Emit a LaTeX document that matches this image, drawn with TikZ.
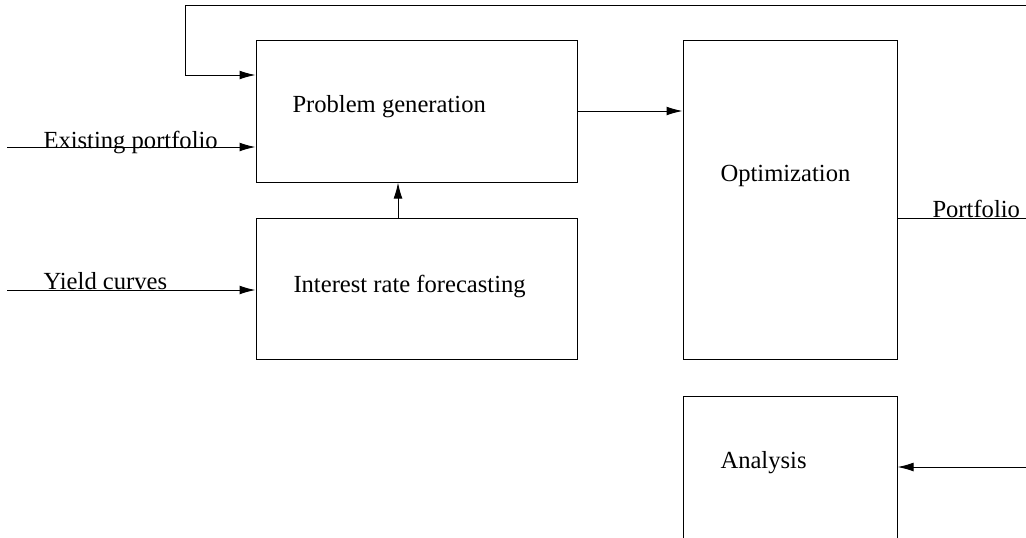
\documentclass[tikz,border=0pt]{standalone}
\usepackage{fontspec}
\setmainfont{Liberation Serif}
\usepackage{tikz}
\usetikzlibrary{arrows.meta}
\newcommand{\fcbox}[4] {\node at (#1) (#2) [rectangle, draw, minimum width=#3, minimum height=#4] {};}
\newcommand{\fctext}[3] {\node at (#1) (#2) [anchor=base west, inner sep=0pt] {#3};}
\newcommand{\fcline}[2] {\draw (#1) -- (#2);}
\newcommand{\fcarrow}[2] {\draw [-{Latex[length=8pt,width=4.4pt]}] (#1) -- (#2);}

\begin{document}
\begin{tikzpicture}[x=0.5pt, y=-0.5pt, line width=0.5pt, font=\fontsize{12.3pt}{14pt}\selectfont]
\useasboundingbox (0,0) rectangle (1026,537);

\fcbox {416.5,111} {gen} {160.5pt} {71pt};
\fcbox {416.5,288.5} {fore} {160.5pt} {70.5pt};
\fcbox {790,199.5} {opt} {107pt} {159.5pt};
\fcbox {790,476} {ana} {107pt} {80pt};

\fctext {292,112} {gentext} {Problem generation};
\fctext {293,292} {foretext} {Interest rate forecasting};
\fctext {720,181} {opttext} {Optimization};
\fctext {720,468} {anatext} {Analysis};

% inputs on the left
\coordinate (epin) at (7,147);
\coordinate (ycin) at (7,290);
\fctext {43,148} {eplabel} {Existing portfolio};
\fctext {43,289} {yclabel} {Yield curves};
\fcarrow {epin}{gen.west |- epin};
\fcarrow {ycin}{fore.west |- ycin};

% between the boxes
\coordinate (upx) at (398,0);
\fcarrow {fore.north -| upx}{gen.south -| upx};
\coordinate (genout) at (577,111);
\fcarrow {genout}{opt.west |- genout};

% output and analysis
\coordinate (portout) at (1026,218);
\fctext {932,217} {portlabel} {Portfolio};
\fcline {opt.east |- portout}{portout};
\coordinate (anain) at (1026,467);
\fcarrow {anain}{ana.east |- anain};

% feedback loop
\coordinate (fbin) at (1026,5);
\coordinate (fbturn) at (185,5);
\coordinate (fbend) at (185,75);
\draw [-{Latex[length=8pt,width=4.4pt]}] (fbin) -- (fbturn) |- (gen.west |- fbend);
\end{tikzpicture}
\end{document}
